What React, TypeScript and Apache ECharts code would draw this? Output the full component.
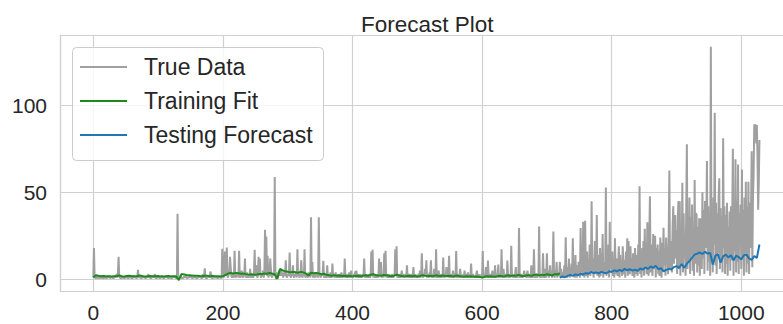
import React, { useEffect, useRef } from "react";
import * as echarts from "echarts";

// ---- True data (one value per index) ----
const true000 = [
  1, 18, 2, 1, 0.5, 1, 2, 1, 0.5, 1,
  1.5, 1, 0.5, 2, 1, 1, 0.5, 1, 2, 1,
  1, 0.5, 1.5, 1, 1, 2, 0.5, 1, 1, 1.5,
  1, 0.5, 1, 2, 1, 1, 3, 1, 4, 13,
  2, 1, 1, 0.5, 1, 1.5, 1, 1, 0.5, 1,
  1, 2, 1, 1, 0.5, 1, 1, 1.5, 1, 1,
  0.5, 1, 1, 2, 1, 1, 1, 0.5, 2, 5.4,
  1, 1, 1.5, 1, 0.5, 1, 1, 2, 1, 1,
  1, 0.5, 1, 1, 1.5, 3, 1, 1, 1, 0.5,
  1, 1, 2, 1, 1, 3, 1, 0.5, 1, 1,
];
const true100 = [
  1, 1.5, 1, 0.5, 1, 1, 2, 1, 1, 0.5,
  1, 1, 1.5, 1, 2, 1, 0.5, 1, 1, 1,
  1, 0.5, 1, 1.5, 1, 1, 2, 1, 0.5, 1,
  37.7, 1, 0, 1, 1, 2, 1, 1, 0.5, 1,
  1.5, 1, 1, 2, 1, 0.5, 1, 1, 1.5, 1,
  1, 2, 1, 0.5, 1, 1, 1, 2, 1, 1,
  0.5, 1, 1.5, 1, 1, 2, 1, 1, 0.5, 3,
  1, 2, 6.3, 1, 1, 0.5, 1, 1, 2, 1,
  1, 4.5, 1, 1, 0.5, 1, 2, 1, 1, 1,
  1.5, 1, 0.5, 1, 2, 1, 1, 1, 0.5, 17.5,
];
const true200 = [
  17.5, 3, 1, 16, 2, 4, 18.3, 2, 1, 3,
  5, 13, 7, 2, 1, 3, 2, 1, 16.4, 2,
  1, 4, 2, 3, 1, 16.4, 2, 1, 3, 5,
  2, 1, 3, 2, 12, 1, 2, 4, 1, 2,
  3, 1, 6, 2, 1, 3, 2, 1, 4, 17,
  2, 3, 8, 1, 2, 13, 3, 12, 2, 1,
  3, 2, 5, 1, 4, 28.5, 3, 24.6, 2, 13.5,
  1, 3, 2, 12, 6, 2, 1, 3, 2, 4,
  58.8, 3, 0, 2, 4, 1, 3, 5, 2, 4,
  6, 2, 3, 1, 4, 2, 3, 11, 2, 1,
];
const true300 = [
  3, 2, 4, 15.4, 2, 1, 3, 2, 8, 2,
  1, 3, 2, 4, 1, 17.3, 2, 3, 1, 2,
  4, 11, 2, 1, 3, 2, 17.3, 1, 2, 3,
  2, 1, 4, 2, 3, 1, 35.6, 2, 10, 1,
  3, 2, 1, 4, 2, 3, 1, 2, 35.6, 3,
  2, 1, 3, 2, 4, 10.6, 1, 2, 3, 1,
  2, 8, 1, 3, 2, 1, 4, 2, 1, 9,
  2, 3, 1, 2, 4, 1, 2, 3, 1, 2,
  3, 1, 2, 4, 1, 2, 3, 1, 12, 2,
  1, 3, 2, 1, 2, 4, 1, 2, 5, 1,
];
const true400 = [
  2, 1, 3, 2, 4.5, 1, 5, 2, 1, 3,
  1, 2, 3, 1, 2, 1, 3, 2, 12, 1,
  2, 3, 1, 2, 1, 3, 2, 1, 2, 16,
  2, 17, 1, 3, 2, 1, 2, 3, 1, 2,
  1, 12, 2, 3, 10, 1, 2, 3, 1, 15,
  2, 16.4, 1, 3, 2, 1, 2, 3, 1, 2,
  1, 3, 2, 1, 2, 3, 17.3, 2, 19, 1,
  2, 1, 3, 2, 1, 2, 5, 1, 3, 2,
  1, 2, 3, 1, 8, 2, 1, 3, 2, 1,
  2, 3, 1, 2, 7, 1, 2, 3, 1, 2,
];
const true500 = [
  1, 2, 3, 1, 5, 1, 3, 15, 2, 1,
  3, 2, 6, 2, 11, 1, 3, 2, 1, 4,
  3, 11, 1, 2, 3, 1, 6, 3, 1, 17.3,
  2, 1, 3, 5, 1, 2, 3, 1, 2, 1,
  12.5, 2, 1, 3, 2, 7, 2, 3, 1, 13.5,
  2, 1, 3, 2, 1, 5, 3, 1, 2, 1,
  16.3, 2, 1, 3, 2, 1, 6, 3, 1, 2,
  1, 3, 2, 5, 1, 2, 3, 1, 4, 1,
  3, 2, 1, 9, 2, 1, 3, 2, 1, 2,
  1, 3, 5, 1, 2, 3, 1, 2, 1, 3,
];
const true600 = [
  2, 16.3, 1, 3, 2, 1, 7, 3, 1, 10.8,
  2, 1, 3, 2, 1, 2, 5, 1, 2, 1,
  8, 2, 1, 3, 2, 8.5, 1, 2, 3, 1,
  17.3, 2, 1, 6, 2, 1, 2, 3, 1, 10.8,
  2, 1, 3, 2, 1, 19.3, 2, 3, 1, 2,
  1, 3, 7, 1, 2, 3, 1, 29.4, 2, 1,
  3, 2, 1, 2, 3, 5, 2, 3, 1, 2,
  5, 1, 3, 2, 1, 2, 8, 1, 2, 1,
  17.3, 2, 1, 3, 2, 1, 2, 3, 30.3, 2,
  1, 3, 2, 1, 15, 2, 1, 6, 2, 1,
];
const true700 = [
  15, 2, 5, 1, 3, 8, 2, 4, 1, 6,
  27.5, 3, 1, 5, 2, 10, 1, 4, 2, 3,
  10, 1, 6, 2, 4, 1, 3, 8, 2, 24.2,
  3, 1, 7, 2, 12, 1, 5, 2, 9, 3,
  23.6, 2, 6, 1, 14, 3, 1, 8, 2, 10,
  3, 1, 29.4, 4, 12, 2, 33, 5, 1, 33.7,
  8, 2, 16, 1, 10, 3, 20, 2, 6, 44.8,
  4, 12, 1, 8, 22, 3, 9, 37, 2, 14,
  5, 1, 18, 2, 15, 4, 26, 1, 10, 3,
  8, 52.7, 2, 14, 5, 20, 1, 33, 6, 12,
];
const true800 = [
  4, 16, 2, 10, 1, 23.6, 7, 3, 12, 2,
  8, 19, 1, 14, 4, 9, 2, 19, 19, 3,
  11, 1, 16, 5, 23.6, 2, 22, 8, 3, 19,
  6, 12, 2, 15, 4, 1, 18, 9, 3, 14,
  2, 20, 6, 53.4, 3, 12, 1, 18, 5, 22,
  2, 29, 8, 16, 3, 32.7, 11, 2, 24, 47.7,
  4, 20, 9, 2, 26, 6, 14, 25, 1, 18,
  7, 20, 3, 16, 2, 24, 10, 1, 21, 5,
  29.6, 8, 18, 2, 24, 12, 15, 3, 27, 62.5,
  6, 22, 14, 4, 30, 42, 9, 26, 37, 12,
];
const true900 = [
  28, 3, 35, 45, 6, 44.8, 2, 30, 8, 55.5,
  4, 38, 12, 25, 2, 40, 77.5, 6, 33, 10,
  47, 3, 36, 14, 43, 5, 30, 2, 57, 9,
  38, 37, 4, 30, 8, 35, 2, 28, 35, 6,
  50, 12, 40, 3, 45, 18, 33, 68, 5, 42,
  10, 36, 2, 133.5, 14, 40, 4, 47, 20, 95.7,
  8, 44, 3, 38, 15, 46, 58, 6, 41, 12,
  36, 4, 81, 18, 42, 3, 37, 9, 44, 2,
  30, 14, 39, 5, 42, 11, 35, 75, 2, 40,
  16, 69, 4, 45, 10, 66, 3, 38, 20, 43,
];
const true1000 = [
  6, 63, 12, 40, 2, 47, 15, 56, 4, 42,
  9, 56, 3, 44, 18, 38, 73.6, 7, 46, 60,
  89, 84, 89, 78, 88.6, 70, 40, 55, 80,
];

// ---- Training fit (every 4th index, 0..720) ----
const fitStep = 4;
const trainFit = [
  1.0, 2.3, 2.0, 1.8, 1.9, 1.7, 1.8, 1.6, 1.8, 1.9,
  2.2, 1.8, 1.6, 1.9, 2.1, 1.8, 1.7, 1.9, 2.2, 1.8,
  1.6, 1.8, 1.9, 1.7, 1.8, 1.9, 1.7, 1.6, 1.8, 1.9,
  1.7, 1.8, 1.6, -0.4, 3.0, 2.8, 2.5, 2.4, 2.2, 2.0,
  2.1, 1.9, 1.8, 2.1, 2.0, 1.8, 2.0, 1.7, 1.8, 1.6,
  1.7, 2.5, 3.3, 3.6, 3.4, 3.7, 3.5, 3.2, 3.4, 3.0,
  2.7, 2.9, 2.6, 2.8, 3.1, 3.0, 3.4, 3.2, 3.6, 3.3,
  2.8, 0.4, 6.0, 5.2, 4.6, 4.3, 4.0, 4.4, 4.1, 3.8,
  4.3, 4.0, 3.4, 2.2, 3.8, 3.5, 3.7, 3.4, 2.9, 3.2,
  2.6, 2.3, 2.1, 2.4, 2.0, 2.2, 1.9, 2.1, 1.8, 2.0,
  1.7, 1.9, 2.1, 1.8, 2.0, 2.3, 2.0, 2.6, 2.9, 2.4,
  2.2, 2.0, 2.5, 2.3, 2.0, 1.8, 2.1, 2.6, 2.2, 1.9,
  1.7, 1.9, 2.0, 1.8, 2.0, 1.6, 1.9, 2.4, 2.1, 1.9,
  2.0, 1.8, 2.3, 2.0, 1.9, 2.2, 1.8, 2.1, 1.9, 1.7,
  2.2, 1.9, 1.7, 1.5, 1.8, 1.6, 1.7, 1.5, 1.6, 1.4,
  1.0, 1.5, 1.8, 1.6, 1.7, 1.5, 1.8, 2.0, 1.7, 1.9,
  2.3, 1.9, 2.2, 2.0, 2.6, 2.1, 1.8, 2.2, 2.4, 2.0,
  2.5, 2.8, 2.3, 2.7, 2.4, 2.9, 2.6, 2.2, 3.0, 2.8,
  3.4,
];

// ---- Testing forecast (every 4th index, 720..1028) ----
const forecastStart = 720;
const testForecast = [
  1.0, 1.6, 1.2, 2.0, 2.5, 2.0, 2.8, 2.4, 3.2, 2.8,
  3.6, 3.2, 4.2, 3.6, 4.0, 3.4, 4.3, 3.8, 3.5, 4.6,
  4.2, 5.2, 4.6, 5.4, 4.8, 6.0, 5.2, 5.8, 5.0, 5.6,
  4.8, 6.2, 5.6, 6.8, 6.0, 7.4, 6.6, 7.8, 5.8, 6.4,
  4.6, 5.4, 6.0, 5.6, 7.0, 7.6, 6.6, 8.8, 6.6, 9.0,
  10.5, 12.4, 14.2, 14.8, 15.4, 14.6, 15.8, 14.8, 15.2, 8.5,
  13.6, 14.4, 9.6, 13.2, 14.2, 12.6, 13.8, 11.0, 13.6, 12.8,
  11.4, 13.8, 14.2, 12.0, 11.2, 13.4, 12.2, 20.0,
];

const xTickLabels = ["0", "200", "400", "600", "800", "1000"];
const yTickLabels = ["0", "50", "100"];
const seriesNames = ["True Data", "Training Fit", "Testing Forecast"];

const TEXT = "#262626";
const GRIDC = "#d0d0d0";

export default function App() {
  const ref = useRef<HTMLDivElement>(null);
  useEffect(() => {
    if (!ref.current) return;
    const chart = echarts.init(ref.current, null, { renderer: "svg" });
    const trueData = [
      ...true000, ...true100, ...true200, ...true300, ...true400, ...true500,
      ...true600, ...true700, ...true800, ...true900, ...true1000,
    ];
    const font = "'Liberation Sans', Arial, sans-serif";
    chart.setOption({
      animation: false,
      backgroundColor: "#ffffff",
      title: {
        text: "Forecast Plot",
        left: 356,
        top: 8,
        textStyle: { fontSize: 22.5, fontWeight: "normal", color: TEXT, fontFamily: font },
      },
      graphic: [
        {
          type: "rect",
          z: 3.9,
          shape: { x: 72.5, y: 47.5, width: 251, height: 113, r: 4 },
          style: { fill: "rgba(255,255,255,0.8)", stroke: "#cccccc", lineWidth: 1 },
        },
      ],
      legend: {
        orient: "vertical",
        left: 72,
        top: 47,
        padding: [7, 10, 10, 8],
        itemGap: 8,
        itemWidth: 47,
        itemHeight: 2,
        icon: "rect",
        z: 5,
        textStyle: {
          fontSize: 23,
          color: TEXT,
          fontFamily: font,
          lineHeight: 26,
          padding: [0, 0, 0, 12],
        },
        data: seriesNames,
      },
      grid: { left: 60, top: 35, width: 724, height: 256, show: false, outerBoundsMode: "none" },
      xAxis: {
        type: "value",
        min: -51.4,
        max: 1065.9,
        minInterval: 200,
        maxInterval: 200,
        axisLine: { show: true, onZero: false, lineStyle: { color: GRIDC, width: 1.2 } },
        axisTick: { show: false },
        splitLine: { show: true, lineStyle: { color: GRIDC, width: 1.2 } },
        axisLabel: {
          showMinLabel: false,
          showMaxLabel: false,
          margin: 11,
          fontSize: 21,
          lineHeight: 21,
          color: TEXT,
          fontFamily: font,
          formatter: (v: number) => (xTickLabels.includes(String(v)) ? String(v) : ""),
        },
      },
      yAxis: {
        type: "value",
        min: -6.7,
        max: 140.3,
        minInterval: 50,
        maxInterval: 50,
        axisLine: { show: true, onZero: false, lineStyle: { color: GRIDC, width: 1.2 } },
        axisTick: { show: false },
        splitLine: { show: true, lineStyle: { color: GRIDC, width: 1.2 } },
        axisLabel: {
          showMinLabel: false,
          showMaxLabel: false,
          margin: 13,
          fontSize: 21,
          color: TEXT,
          fontFamily: font,
          formatter: (v: number) => (yTickLabels.includes(String(v)) ? String(v) : ""),
        },
      },
      series: [
        {
          name: seriesNames[0],
          type: "line",
          data: trueData.map((v, i) => [i, v]),
          showSymbol: false,
          symbol: "none",
          itemStyle: { color: "#a0a0a0" },
          lineStyle: { color: "#a0a0a0", width: 2 },
          z: 2,
        },
        {
          name: seriesNames[1],
          type: "line",
          data: trainFit.map((v, i) => [i * fitStep, v]),
          showSymbol: false,
          symbol: "none",
          itemStyle: { color: "#1e8a1e" },
          lineStyle: { color: "#1e8a1e", width: 2 },
          z: 3,
        },
        {
          name: seriesNames[2],
          type: "line",
          data: testForecast.map((v, i) => [forecastStart + i * fitStep, v]),
          showSymbol: false,
          symbol: "none",
          itemStyle: { color: "#1f77b4" },
          lineStyle: { color: "#1f77b4", width: 2 },
          z: 3,
        },
      ],
    });
    return () => chart.dispose();
  }, []);
  return (
    <div
      ref={ref}
      style={{ position: "fixed", left: 0, top: 0, width: 783, height: 324, background: "#fff" }}
    />
  );
}
